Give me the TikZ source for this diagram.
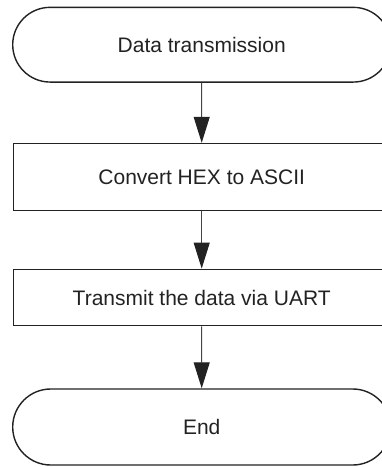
\documentclass[tikz,border=0pt]{standalone}
\usepackage{fontspec}
\setmainfont{Liberation Sans}
\usetikzlibrary{arrows.meta,shapes.misc}
\definecolor{linec}{HTML}{222222}
\definecolor{arrc}{HTML}{444444}
\tikzset{
  terminal/.style={draw=linec, line width=1.4pt, rounded rectangle, minimum width=378pt, minimum height=74.7pt, inner sep=0pt, font=\fontsize{21}{24}\selectfont, text=linec},
  procbox/.style={draw=linec, line width=1.4pt, rectangle, minimum width=376.7pt, inner sep=0pt, font=\fontsize{21}{24}\selectfont, text=linec},
  flowarr/.style={draw=arrc, line width=1pt, -{Triangle[length=26pt,width=16pt,color=linec]}}
}
\begin{document}
\begin{tikzpicture}[x=1pt,y=-1pt]
\useasboundingbox (0,0) rectangle (382,467);
\clip (0,0) rectangle (382,467);
\node[terminal] (start) at (201.7,44.7) {Data transmission};
\node[procbox, minimum height=67.2pt] (conv) at (201.7,177.1) {Convert HEX to ASCII};
\node[procbox, minimum height=56.4pt] (tx) at (201.7,297.5) {Transmit the data via UART};
\node[terminal, minimum height=76pt] (stop) at (201.7,427) {End};
\draw[flowarr] (start) -- (conv);
\draw[flowarr] (conv) -- (tx);
\draw[flowarr] (tx) -- (stop);
\end{tikzpicture}
\end{document}
